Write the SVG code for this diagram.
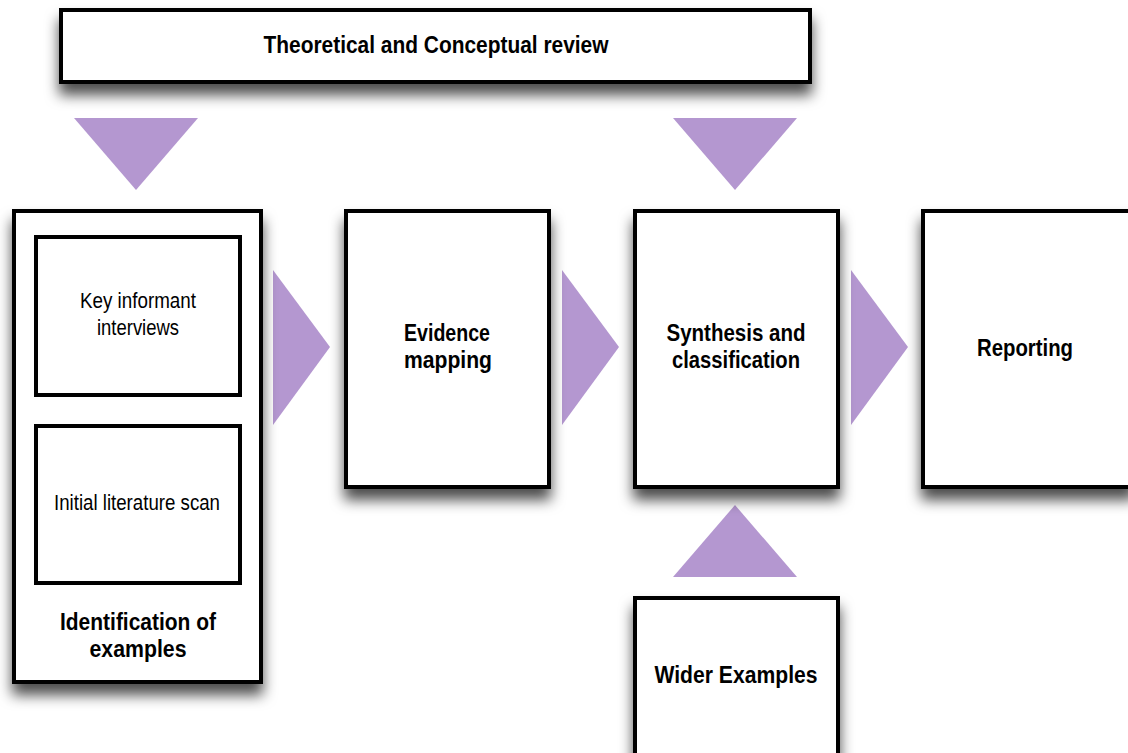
<svg xmlns="http://www.w3.org/2000/svg" width="1128" height="753" viewBox="0 0 1128 753">
<style>
.box{fill:#fff;stroke:#000;stroke-width:4}
.sh{filter:url(#shadow)}
.arr{fill:#b497d0}
.b{font-family:"Liberation Sans",Arial,sans-serif;font-weight:bold;fill:#000;text-anchor:middle}
.n{font-family:"Liberation Sans",Arial,sans-serif;fill:#000;text-anchor:middle}
</style>
<defs>
<filter id="shadow" x="-20%" y="-20%" width="140%" height="160%">
<feDropShadow dx="0" dy="11" stdDeviation="7" flood-color="#000" flood-opacity="0.7"/>
</filter>
</defs>
<rect width="1128" height="753" fill="#fff"/>
<g id="connectors">
<polygon class="arr" points="74,118 198,118 136,190"/>
<polygon class="arr" points="673,118 797,118 735,190"/>
<polygon class="arr" points="273,270 330,347 273,425"/>
<polygon class="arr" points="562,270 619,347 562,425"/>
<polygon class="arr" points="851,270 908,347 851,425"/>
<polygon class="arr" points="735,505 797,577 673,577"/>
</g>
<g id="node-review">
<rect class="box sh" x="61" y="10" width="749" height="72"/>
<text class="b" x="436" y="53" font-size="23" textLength="345" lengthAdjust="spacingAndGlyphs">Theoretical and Conceptual review</text>
</g>
<g id="node-identification">
<rect class="box sh" x="14" y="211" width="247" height="471"/>
<text class="b" x="138" y="630" font-size="23" textLength="156" lengthAdjust="spacingAndGlyphs">Identification of</text>
<text class="b" x="138" y="657" font-size="23" textLength="97" lengthAdjust="spacingAndGlyphs">examples</text>
</g>
<g id="node-key-informant">
<rect class="box" x="36" y="237" width="204" height="158"/>
<text class="n" x="138" y="308" font-size="22" textLength="116" lengthAdjust="spacingAndGlyphs">Key informant</text>
<text class="n" x="138" y="335" font-size="22" textLength="82" lengthAdjust="spacingAndGlyphs">interviews</text>
</g>
<g id="node-literature">
<rect class="box" x="36" y="426" width="204" height="157"/>
<text class="n" x="137" y="510" font-size="22" textLength="166" lengthAdjust="spacingAndGlyphs">Initial literature scan</text>
</g>
<g id="node-evidence">
<rect class="box sh" x="346" y="211" width="203" height="276"/>
<text class="b" x="447" y="341" font-size="23" textLength="86" lengthAdjust="spacingAndGlyphs">Evidence</text>
<text class="b" x="448" y="368" font-size="23" textLength="88" lengthAdjust="spacingAndGlyphs">mapping</text>
</g>
<g id="node-synthesis">
<rect class="box sh" x="635" y="211" width="203" height="276"/>
<text class="b" x="736" y="341" font-size="23" textLength="139" lengthAdjust="spacingAndGlyphs">Synthesis and</text>
<text class="b" x="736" y="368" font-size="23" textLength="128" lengthAdjust="spacingAndGlyphs">classification</text>
</g>
<g id="node-reporting">
<rect class="box sh" x="923" y="211" width="210" height="276"/>
<text class="b" x="1025" y="356" font-size="23" textLength="96" lengthAdjust="spacingAndGlyphs">Reporting</text>
</g>
<g id="node-wider">
<rect class="box sh" x="635" y="598" width="203" height="170"/>
<text class="b" x="736" y="683" font-size="23" textLength="163" lengthAdjust="spacingAndGlyphs">Wider Examples</text>
</g>
</svg>
